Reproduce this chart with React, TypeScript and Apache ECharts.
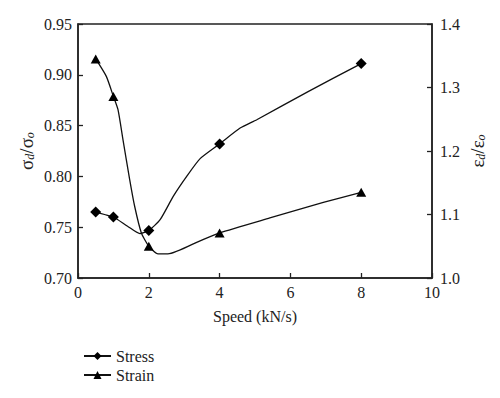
import React, { useEffect, useRef } from "react";
import * as echarts from "echarts";

// Marker points
const speeds = [0.5, 1, 2, 4, 8];
const stressRatio = [0.765, 0.76, 0.7468, 0.832, 0.911];
const strainRatio = [1.345, 1.286, 1.05, 1.071, 1.135];

// Additional points along the drawn fit curves (no markers)
const stressCurveX = [0.75, 1.4, 1.75, 2.32, 2.69, 3.07, 3.45, 4.58, 5.05, 6.5];
const stressCurveY = [0.7625, 0.751, 0.7437, 0.7574, 0.7803, 0.8, 0.8175, 0.8476, 0.8558, 0.8835];
const strainCurveX = [0.8, 1.13, 1.27, 1.46, 1.6, 1.79, 2.26, 2.54, 3.45, 5.42, 6.93];
const strainCurveY = [1.3175, 1.265, 1.218, 1.155, 1.113, 1.071, 1.038, 1.038, 1.0586, 1.0945, 1.119];

const xTicks = [0, 2, 4, 6, 8, 10];
const leftTicks = [0.7, 0.75, 0.8, 0.85, 0.9, 0.95];
const rightTicks = [1.0, 1.1, 1.2, 1.3, 1.4];

const FONT = "Liberation Serif";

function buildSeriesData(mx: number[], my: number[], cx: number[], cy: number[]) {
  const pts: any[] = [];
  mx.forEach((x, i) => pts.push({ value: [x, my[i]] }));
  cx.forEach((x, i) => pts.push({ value: [x, cy[i]], symbol: "none" }));
  pts.sort((a, b) => a.value[0] - b.value[0]);
  return pts;
}

export default function App() {
  const ref = useRef<HTMLDivElement>(null);
  useEffect(() => {
    if (!ref.current) return;
    const chart = echarts.init(ref.current, undefined, { renderer: "svg" });
    const axisCommon = {
      axisLine: { show: true, lineStyle: { color: "#222", width: 1.5 } },
      axisTick: { show: true, inside: true, length: 5, lineStyle: { color: "#222", width: 1.3 } },
      splitLine: { show: false },
      axisLabel: { color: "#222", fontFamily: FONT, fontSize: 16 },
    };
    const richName = {
      g: { fontFamily: FONT, fontSize: 19, color: "#222" },
      s: { fontFamily: FONT, fontSize: 12, fontStyle: "italic", color: "#222", verticalAlign: "bottom" },
    };
    chart.setOption({
      animation: false,
      backgroundColor: "#fff",
      textStyle: { fontFamily: FONT },
      grid: {
        left: 78,
        right: 68,
        top: 24,
        bottom: 120,
        show: true,
        borderColor: "#222",
        borderWidth: 1.5,
      },
      legend: {
        orient: "vertical",
        left: 78,
        top: 343,
        itemWidth: 27,
        itemHeight: 10,
        itemGap: 3,
        textStyle: { fontFamily: FONT, fontSize: 16, color: "#222", lineHeight: 16 },
        data: ["Stress", "Strain"],
      },
      xAxis: {
        type: "value",
        min: xTicks[0],
        max: xTicks[xTicks.length - 1],
        interval: 2,
        name: "Speed (kN/s)",
        nameLocation: "middle",
        nameGap: 30,
        nameMoveOverlap: false,
        nameTextStyle: { fontFamily: FONT, fontSize: 16, color: "#222" },
        ...axisCommon,
        axisLabel: { ...axisCommon.axisLabel, margin: 6 },
      },
      yAxis: [
        {
          type: "value",
          min: leftTicks[0],
          max: leftTicks[leftTicks.length - 1],
          interval: 0.05,
          position: "left",
          name: "{g|σ}{s|d}{g|/σ}{s|o}",
          nameLocation: "middle",
          nameRotate: 90,
          nameGap: 42,
          nameMoveOverlap: false,
          nameTextStyle: { fontFamily: FONT, color: "#222", fontSize: 19, rich: richName },
          ...axisCommon,
          axisLabel: { ...axisCommon.axisLabel, margin: 6, formatter: (v: number) => v.toFixed(2) },
        },
        {
          type: "value",
          min: rightTicks[0],
          max: rightTicks[rightTicks.length - 1],
          interval: 0.1,
          position: "right",
          name: "{g|ε}{s|d}{g|/ε}{s|o}",
          nameLocation: "middle",
          nameRotate: 90,
          nameGap: 36,
          nameMoveOverlap: false,
          nameTextStyle: { fontFamily: FONT, color: "#222", fontSize: 19, rich: richName },
          ...axisCommon,
          axisLabel: { ...axisCommon.axisLabel, margin: 8, formatter: (v: number) => v.toFixed(1) },
        },
      ],
      series: [
        {
          name: "Stress",
          type: "line",
          yAxisIndex: 0,
          smooth: 0.2,
          symbol: "diamond",
          symbolSize: 11,
          showAllSymbol: true,
          itemStyle: { color: "#000" },
          lineStyle: { color: "#111", width: 1.3 },
          data: buildSeriesData(speeds, stressRatio, stressCurveX, stressCurveY),
        },
        {
          name: "Strain",
          type: "line",
          yAxisIndex: 1,
          smooth: 0.2,
          symbol: "triangle",
          symbolSize: [10, 9],
          showAllSymbol: true,
          itemStyle: { color: "#000" },
          lineStyle: { color: "#111", width: 1.3 },
          data: buildSeriesData(speeds, strainRatio, strainCurveX, strainCurveY),
        },
      ],
    });
    return () => chart.dispose();
  }, []);
  return <div ref={ref} style={{ width: 500, height: 398, position: "absolute", left: 0, top: 0 }} />;
}
